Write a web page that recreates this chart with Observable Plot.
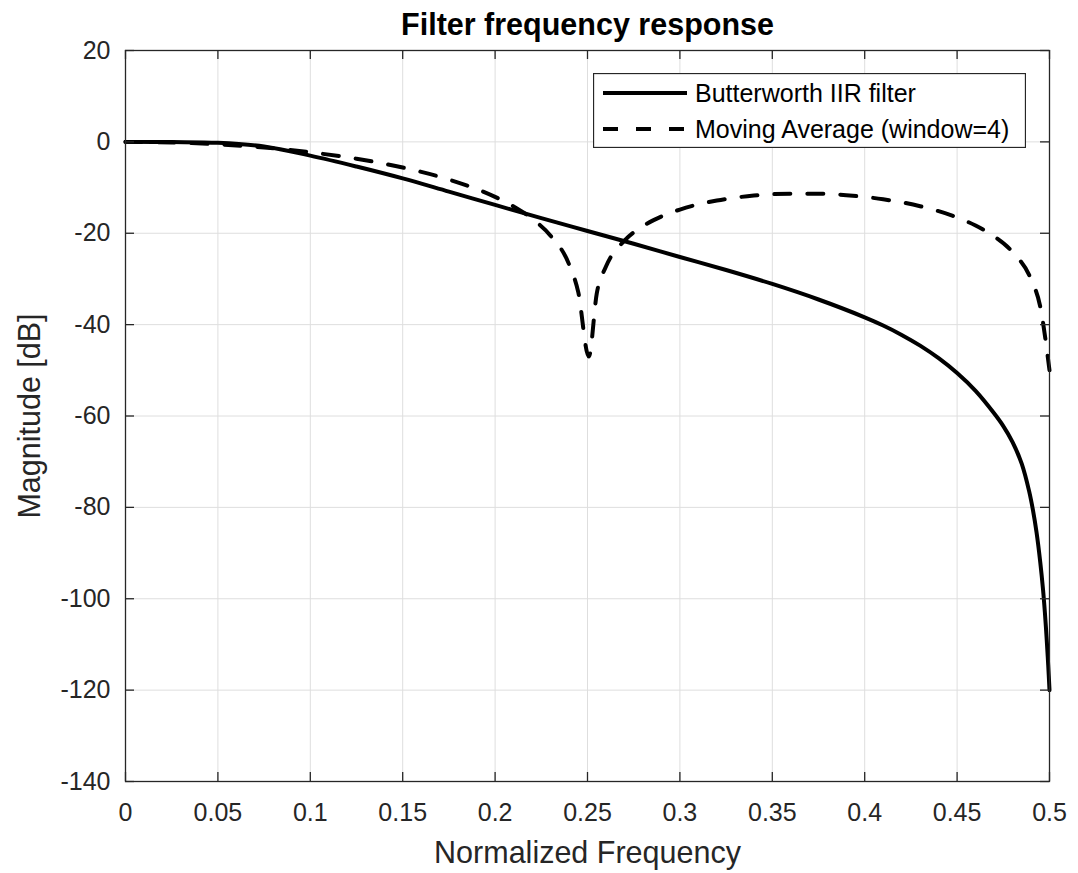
<!DOCTYPE html>
<html>
<head>
<meta charset="utf-8">
<script src="https://cdn.jsdelivr.net/npm/d3@7"></script>
<script src="https://cdn.jsdelivr.net/npm/@observablehq/plot@0.6"></script>
<style>
  html, body { margin: 0; padding: 0; background: #fff; }
  #wrap { position: relative; width: 1078px; height: 873px; font-family: "Liberation Sans", Arial, Helvetica, sans-serif; }
  #legend { position: absolute; left: 593px; top: 73px; }
</style>
</head>
<body>
<div id="wrap"></div>
<script>
// ---- data ----
const titleText = "Filter frequency response";
const xLabel = "Normalized Frequency";
const yLabel = "Magnitude [dB]";
const seriesNames = ["Butterworth IIR filter", "Moving Average (window=4)"];

const xTicks = [0, 0.05, 0.1, 0.15, 0.2, 0.25, 0.3, 0.35, 0.4, 0.45, 0.5];
const xTickLabels = ["0", "0.05", "0.1", "0.15", "0.2", "0.25", "0.3", "0.35", "0.4", "0.45", "0.5"];
const yTicks = [-140, -120, -100, -80, -60, -40, -20, 0, 20];
const yTickLabels = ["-140", "-120", "-100", "-80", "-60", "-40", "-20", "0", "20"];

const bwFreq = [0, 0.025, 0.05, 0.075, 0.1, 0.125, 0.15, 0.175, 0.2, 0.225, 0.25, 0.275, 0.3, 0.325, 0.35, 0.375, 0.4, 0.41, 0.42, 0.43, 0.44, 0.45, 0.46, 0.47, 0.475, 0.48, 0.485, 0.489, 0.491, 0.493, 0.495, 0.4965, 0.4975, 0.4985, 0.4993, 0.5];
const bwDb   = [0, -0.05, -0.2, -1.0, -3.0, -5.4, -8.0, -10.9, -13.8, -16.7, -19.5, -22.3, -25.2, -28.05, -31.1, -34.5, -38.4, -40.2, -42.25, -44.6, -47.35, -50.6, -54.5, -59.4, -62.2, -65.7, -70.5, -76.5, -80.5, -85.5, -92, -98, -103, -109, -114.5, -120];

const maFreq = [0, 0.025, 0.05, 0.075, 0.1, 0.125, 0.15, 0.175, 0.2, 0.21, 0.22, 0.23, 0.24, 0.245, 0.2507, 0.255, 0.26, 0.27, 0.28, 0.29, 0.3, 0.32, 0.34, 0.36, 0.375, 0.39, 0.41, 0.43, 0.45, 0.46, 0.47, 0.48, 0.49, 0.495, 0.5];
const maDb   = [0, -0.13, -0.54, -1.24, -2.28, -3.70, -5.62, -8.24, -12.04, -14.13, -16.81, -20.53, -26.79, -32.9, -47, -33.2, -27.3, -21.63, -18.46, -16.34, -14.81, -12.84, -11.76, -11.33, -11.35, -11.67, -12.56, -14.09, -16.55, -18.32, -20.68, -24.11, -30.08, -36.08, -50];

// ---- build tables ----
const bw = bwFreq.map((f, i) => ({f, db: bwDb[i]}));
const ma = maFreq.map((f, i) => ({f, db: maDb[i]}));

const W = 1078, H = 873, mL = 125, mR = 29, mT = 50, mB = 92;
const plotW = W - mL - mR, plotH = H - mT - mB;
const axisColor = "#262626";
const gridColor = "#dedede";
const tickLen = 9;
const font = "Liberation Sans, Arial, Helvetica, sans-serif";

const chart = Plot.plot({
  width: W, height: H,
  marginLeft: mL, marginRight: mR, marginTop: mT, marginBottom: mB,
  style: {fontFamily: font, color: axisColor, background: "white"},
  x: {domain: [0, 0.5], label: null},
  y: {domain: [-140, 20], label: null},
  marks: [
    Plot.gridX(xTicks, {stroke: gridColor, strokeOpacity: 1, strokeWidth: 1}),
    Plot.gridY(yTicks, {stroke: gridColor, strokeOpacity: 1, strokeWidth: 1}),
    Plot.line(ma, {x: "f", y: "db", stroke: "black", strokeWidth: 4, strokeDasharray: "16,17", curve: "monotone-x"}),
    Plot.line(bw, {x: "f", y: "db", stroke: "black", strokeWidth: 4, curve: "catmull-rom"}),
    Plot.frame({stroke: axisColor, strokeWidth: 1.3}),
    Plot.tickX(xTicks, {x: d => d, insetTop: plotH - tickLen, stroke: axisColor, strokeWidth: 1.3}),
    Plot.tickX(xTicks, {x: d => d, insetBottom: plotH - tickLen, stroke: axisColor, strokeWidth: 1.3}),
    Plot.tickY(yTicks, {y: d => d, insetRight: plotW - tickLen, stroke: axisColor, strokeWidth: 1.3}),
    Plot.tickY(yTicks, {y: d => d, insetLeft: plotW - tickLen, stroke: axisColor, strokeWidth: 1.3}),
    Plot.axisX(xTicks, {tickSize: 0, tickPadding: 22, fontSize: 25, label: null,
      tickFormat: d => xTickLabels[xTicks.indexOf(d)]}),
    Plot.axisY(yTicks, {tickSize: 0, tickPadding: 15, fontSize: 25, label: null,
      tickFormat: d => yTickLabels[yTicks.indexOf(d)]}),
    Plot.text([titleText], {frameAnchor: "top", lineAnchor: "middle", textAnchor: "middle", dy: -25, fontSize: 30.5, fontWeight: "bold", fill: "black"}),
    Plot.text([xLabel], {frameAnchor: "bottom", lineAnchor: "middle", textAnchor: "middle", dy: 72, fontSize: 30.5, fill: axisColor}),
    Plot.text([yLabel], {frameAnchor: "left", lineAnchor: "middle", textAnchor: "middle", dx: -95, rotate: -90, fontSize: 30.5, fill: axisColor})
  ]
});

const wrap = document.getElementById("wrap");
wrap.appendChild(chart);

// ---- legend ----
const lgW = 433, lgH = 75;
const ns = "http://www.w3.org/2000/svg";
const lg = document.createElementNS(ns, "svg");
lg.setAttribute("id", "legend");
lg.setAttribute("width", lgW);
lg.setAttribute("height", lgH);
const rect = document.createElementNS(ns, "rect");
rect.setAttribute("x", 0.5); rect.setAttribute("y", 0.5);
rect.setAttribute("width", lgW - 1); rect.setAttribute("height", lgH - 1);
rect.setAttribute("fill", "white"); rect.setAttribute("stroke", axisColor); rect.setAttribute("stroke-width", 1.3);
lg.appendChild(rect);
const rows = [{y: 20, dash: null}, {y: 56, dash: "15,18"}];
rows.forEach((r, i) => {
  const ln = document.createElementNS(ns, "line");
  ln.setAttribute("x1", 10); ln.setAttribute("x2", 94);
  ln.setAttribute("y1", r.y); ln.setAttribute("y2", r.y);
  ln.setAttribute("stroke", "black"); ln.setAttribute("stroke-width", 4);
  if (r.dash) ln.setAttribute("stroke-dasharray", r.dash);
  lg.appendChild(ln);
  const tx = document.createElementNS(ns, "text");
  tx.setAttribute("x", 102); tx.setAttribute("y", r.y);
  tx.setAttribute("dy", "0.35em");
  tx.setAttribute("font-family", font);
  tx.setAttribute("font-size", 25);
  tx.setAttribute("fill", "black");
  tx.textContent = seriesNames[i];
  lg.appendChild(tx);
});
wrap.appendChild(lg);
</script>
</body>
</html>
